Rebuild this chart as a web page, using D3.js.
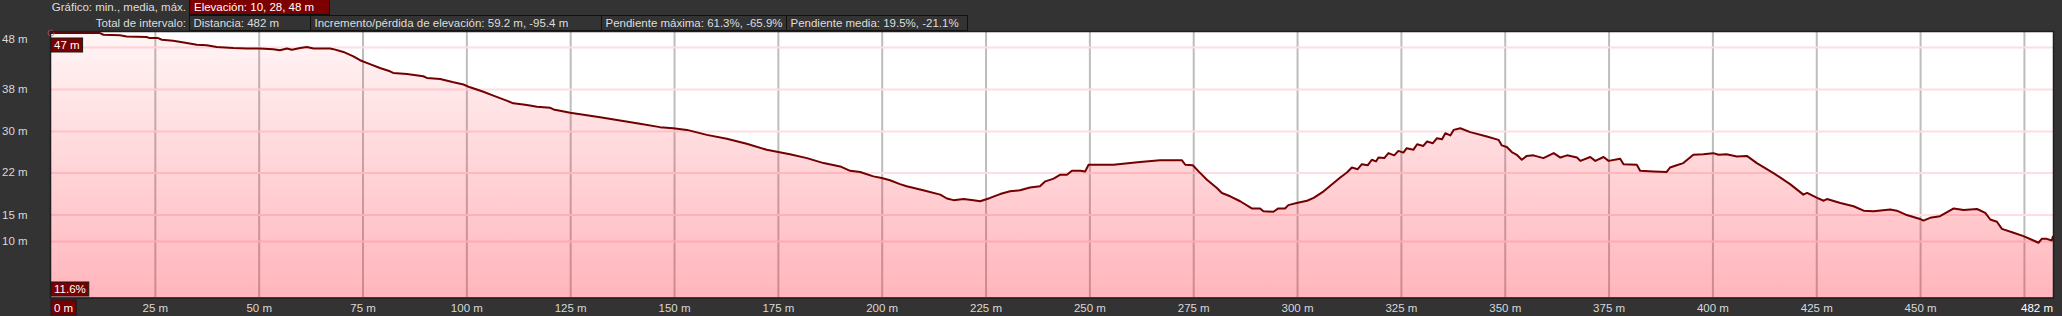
<!DOCTYPE html>
<html>
<head>
<meta charset="utf-8">
<script src="https://cdn.jsdelivr.net/npm/d3@7"></script>
<style>
  html, body { margin: 0; padding: 0; background: #333333; }
  svg { display: block; }
  text { font-family: "Liberation Sans", Arial, sans-serif; font-size: 11.5px; }
</style>
</head>
<body>
<svg id="chart" width="2062" height="316"></svg>
<script>
// ---------------- DATA ----------------
const distances = [0,7.0,11.8,12.6,16.6,18.2,23.0,23.8,25.8,26.7,29.4,32.7,35.1,37.5,39.9,43.9,47.1,50.3,53.5,55.1,56.8,58.0,60.0,61.6,63.2,67.2,68.0,70.4,72.8,74.4,76.8,79.2,81.6,82.4,85.7,89.6,90.5,93.7,96.9,99.3,100.9,104.1,106.5,109.7,111.3,113.7,115.3,117.0,120.2,121.0,125.0,132.2,141.8,146.6,149.8,153.1,157.9,162.7,167.5,172.3,175.1,177.9,182.0,186.0,190.0,192.4,194.8,198.0,200.0,202.0,204.4,206.0,210.0,214.1,215.7,217.3,219.7,222.1,223.7,226.1,228.5,230.9,233.3,235.7,238.1,239.4,241.4,243.0,244.6,245.8,247.8,249.0,249.8,255.8,262.2,267.0,272.3,273.1,274.9,276.3,278.3,280.7,281.9,283.9,286.3,289.1,291.1,291.9,294.3,295.5,297.1,297.9,299.9,302.4,304.0,306.4,308.8,310.4,312.0,313.2,314.6,315.6,317.0,318.0,319.0,319.6,321.0,322.0,323.4,324.4,325.6,326.4,328.0,328.9,330.4,331.3,332.7,333.7,334.9,335.7,336.9,337.7,339.3,341.7,345.7,348.5,349.3,350.5,351.7,352.9,354.1,355.3,356.9,359.3,361.8,363.4,365.0,367.4,368.2,370.6,371.8,373.8,375.0,377.8,378.6,381.8,382.6,385.8,389.0,389.8,391.4,393.0,395.4,397.8,400.2,401.5,403.4,405.9,408.3,410.7,414.7,418.7,421.9,422.8,425.2,426.8,427.6,430.8,434.0,436.4,438.8,442.8,444.4,446.8,450.0,450.8,452.4,454.8,458.1,460.5,463.7,465.7,466.9,468.5,469.7,472.5,474.9,477.3,478.5,479.3,480.5,481.7,482];
const elevations = [47.8,47.8,47.8,47.5,47.4,47.2,47.1,46.9,46.9,46.6,46.4,46.0,45.7,45.6,45.3,45.1,45.0,45.0,44.9,44.7,45.0,44.8,45.1,45.3,45.0,45.0,44.9,44.4,43.6,42.9,42.2,41.5,40.9,40.6,40.4,40.0,39.7,39.5,38.9,38.5,38.0,37.2,36.5,35.6,35.1,34.9,34.7,34.5,34.3,34.0,33.4,32.6,31.4,30.8,30.6,30.3,29.4,28.7,27.8,26.7,26.3,25.9,25.2,24.3,23.7,22.9,22.7,21.9,21.6,21.2,20.5,20.1,19.4,18.6,17.9,17.6,17.8,17.6,17.4,18.0,18.7,19.2,19.4,19.9,20.1,21.0,21.5,22.2,22.2,22.9,22.9,22.8,24.0,24.0,24.5,24.8,24.8,24.0,23.9,22.8,21.3,19.8,18.9,18.3,17.4,16.1,16.1,15.6,15.5,16.1,16.1,16.7,17.1,17.5,18.0,19.2,20.7,21.7,22.6,23.5,23.2,24.1,23.9,24.9,24.6,25.3,25.2,26.1,25.7,26.5,26.2,27.0,26.7,27.7,27.4,28.2,27.9,28.8,28.6,29.7,29.3,30.3,30.6,29.9,29.1,28.5,27.5,27.2,26.3,25.8,24.9,25.6,25.7,25.2,26.1,25.3,25.7,25.3,24.7,25.4,24.7,25.4,24.7,25.1,24.1,24.0,22.9,22.8,22.7,23.5,23.9,24.3,25.8,25.9,26.1,25.8,25.9,25.5,25.6,24.3,22.5,20.5,18.6,18.9,18.0,17.5,17.8,17.1,16.5,15.7,15.6,15.9,15.7,14.9,14.2,13.9,14.4,14.7,16.1,15.8,16.0,15.3,14.1,13.7,12.4,11.7,11.1,10.3,9.9,10.6,10.6,10.3,11.1];

const xGridTicks = [25,50,75,100,125,150,175,200,225,250,275,300,325,350,375,400,425,450,475];
const xLabelTicks = [25,50,75,100,125,150,175,200,225,250,275,300,325,350,375,400,425,450];
const totalDistance = 482;
const yGridValues = [45.3,37.7,30.1,22.6,15.0,10.2];
const yLabelValues = [48,37.7,30.1,22.6,15.0,10.2];
const yLabelTexts = ["48 m","38 m","30 m","22 m","15 m","10 m"];
const yDomain = [0, 48];

const headerRow1Label = "Gráfico: min., media, máx.";
const headerRow1Box = "Elevación: 10, 28, 48 m";
const headerRow2Label = "Total de intervalo:";
const headerRow2Boxes = ["Distancia: 482 m", "Incremento/pérdida de elevación: 59.2 m, -95.4 m", "Pendiente máxima: 61.3%, -65.9%", "Pendiente media: 19.5%, -21.1%"];
const startLabel = "47 m";
const slopeLabel = "11.6%";
const startDistLabel = "0 m";

// ---------------- LAYOUT ----------------
const W = 2062, H = 316;
const plot = {left: 51, right: 2053, top: 32, bottom: 297.5};
const svg = d3.select("#chart");

const x = d3.scaleLinear().domain([0, totalDistance]).range([plot.left, plot.right]);
const y = d3.scaleLinear().domain(yDomain).range([plot.bottom, plot.top]);

svg.append("rect").attr("width", W).attr("height", H).attr("fill", "#333333");

// ---------- header ----------
const hdr = svg.append("g");
hdr.append("text").attr("x", 186).attr("y", 7).attr("text-anchor", "end")
  .attr("dominant-baseline", "central").attr("fill", "#dedede").text(headerRow1Label);
hdr.append("rect").attr("x", 189.5).attr("y", -1).attr("width", 140).attr("height", 15)
  .attr("fill", "#7d0000").attr("stroke", "#111").attr("shape-rendering", "crispEdges");
hdr.append("text").attr("x", 194).attr("y", 7).attr("dominant-baseline", "central")
  .attr("fill", "#ffffff").text(headerRow1Box);

hdr.append("text").attr("x", 186).attr("y", 23).attr("text-anchor", "end")
  .attr("dominant-baseline", "central").attr("fill", "#dedede").text(headerRow2Label);
const boxEdges = [189.5, 310.5, 601.5, 786.5, 967.5];
headerRow2Boxes.forEach((t, i) => {
  hdr.append("rect").attr("x", boxEdges[i]).attr("y", 15.5)
    .attr("width", boxEdges[i + 1] - boxEdges[i]).attr("height", 15)
    .attr("fill", "#333333").attr("stroke", "#111").attr("shape-rendering", "crispEdges");
  hdr.append("text").attr("x", boxEdges[i] + 4).attr("y", 23.3).attr("dominant-baseline", "central")
    .attr("fill", "#dedede").text(t);
});

// ---------- plot ----------
const plotW = plot.right - plot.left, plotH = plot.bottom - plot.top;
svg.append("rect").attr("x", plot.left).attr("y", plot.top).attr("width", plotW).attr("height", plotH)
  .attr("fill", "#ffffff");

// vertical grid
const xGrid = svg.append("g").attr("transform", `translate(0,${plot.bottom})`)
  .call(d3.axisBottom(x).tickValues(xGridTicks).tickSize(-plotH).tickFormat(""));
xGrid.select(".domain").remove();
xGrid.selectAll(".tick line").attr("stroke", "#bdbdbd").attr("stroke-width", 2);

// horizontal grid
const yGrid = svg.append("g").attr("transform", `translate(${plot.left},0)`)
  .call(d3.axisLeft(y).tickValues(yGridValues).tickSize(-plotW).tickFormat(""));
yGrid.select(".domain").remove();
yGrid.selectAll(".tick line").attr("stroke", "#ffdde2").attr("stroke-width", 2);

// gradient fill
const defs = svg.append("defs");
const grad = defs.append("linearGradient").attr("id", "fillGrad")
  .attr("gradientUnits", "userSpaceOnUse")
  .attr("x1", 0).attr("x2", 0).attr("y1", plot.top).attr("y2", plot.bottom);
grad.append("stop").attr("offset", "0%").attr("stop-color", "#ff0a1e").attr("stop-opacity", 0.04);
grad.append("stop").attr("offset", "100%").attr("stop-color", "#ff0a1e").attr("stop-opacity", 0.3);

const pts = distances.map((d, i) => [d, elevations[i]]);
const area = d3.area().x(d => x(d[0])).y0(plot.bottom).y1(d => y(d[1]));
const line = d3.line().x(d => x(d[0])).y(d => y(d[1]));

svg.append("path").datum(pts).attr("d", area).attr("fill", "url(#fillGrad)");
svg.append("path").datum(pts).attr("d", line).attr("fill", "none")
  .attr("stroke", "#720000").attr("stroke-width", 2).attr("stroke-linejoin", "round");

// start marker
svg.append("circle").attr("cx", x(distances[0])).attr("cy", y(elevations[0])).attr("r", 3)
  .attr("fill", "none").attr("stroke", "#e05060").attr("stroke-opacity", 0.7).attr("stroke-width", 1);

// plot border
svg.append("rect").attr("x", plot.left - 0.5).attr("y", plot.top - 0.5).attr("width", plotW + 1).attr("height", plotH + 1)
  .attr("fill", "none").attr("stroke", "#1e1e1e").attr("stroke-width", 1.5);

// label boxes
function labelBox(xl, yc, txt, h) {
  const t = svg.append("text").attr("x", xl + 3).attr("y", yc).attr("dominant-baseline", "central")
    .attr("fill", "#ffffff").text(txt);
  const w = t.node().getComputedTextLength() + 6;
  svg.insert("rect", () => t.node()).attr("x", xl).attr("y", yc - h / 2).attr("width", w).attr("height", h)
    .attr("fill", "#780000").attr("stroke", "#1a1a1a").attr("stroke-width", 1);
}
labelBox(plot.left, 45, startLabel, 14);
labelBox(plot.left, 289, slopeLabel, 14);
labelBox(plot.left, 307.5, startDistLabel, 15);

// x labels
const xAxis = svg.append("g").attr("transform", `translate(0,${plot.bottom})`)
  .call(d3.axisBottom(x).tickValues(xLabelTicks).tickSize(0).tickPadding(0).tickFormat(d => d + " m"));
xAxis.select(".domain").remove();
xAxis.selectAll(".tick text").attr("y", 10).attr("dy", 0).attr("dominant-baseline", "central")
  .attr("fill", "#d8d8d8").style("font-family", '"Liberation Sans", Arial, sans-serif').style("font-size", "11.5px");
svg.append("text").attr("x", plot.right).attr("y", 307.5).attr("text-anchor", "end")
  .attr("dominant-baseline", "central").attr("fill", "#ffffff").text(totalDistance + " m");

// y labels
yLabelValues.forEach((v, i) => {
  svg.append("text").attr("x", 2).attr("y", Math.max(y(v), 39)).attr("dominant-baseline", "central")
    .attr("fill", "#d8d8d8").text(yLabelTexts[i]);
});
</script>
</body>
</html>
